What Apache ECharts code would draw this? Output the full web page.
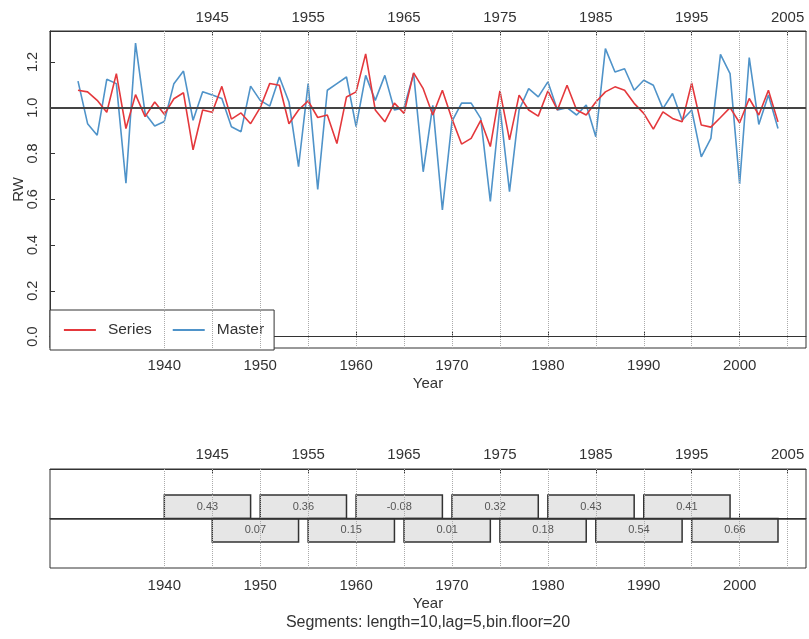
<!DOCTYPE html>
<html>
<head>
<meta charset="utf-8">
<script src="https://cdn.jsdelivr.net/npm/echarts@6/dist/echarts.min.js"></script>
<style>
  html, body { margin: 0; padding: 0; background: #fff; }
  #chart { width: 809px; height: 639px; }
</style>
</head>
<body>
<div id="chart"></div>
<script>
// Ring-width years
const years = [
  1931, 1932, 1933, 1934, 1935, 1936, 1937, 1938, 1939, 1940,
  1941, 1942, 1943, 1944, 1945, 1946, 1947, 1948, 1949, 1950,
  1951, 1952, 1953, 1954, 1955, 1956, 1957, 1958, 1959, 1960,
  1961, 1962, 1963, 1964, 1965, 1966, 1967, 1968, 1969, 1970,
  1971, 1972, 1973, 1974, 1975, 1976, 1977, 1978, 1979, 1980,
  1981, 1982, 1983, 1984, 1985, 1986, 1987, 1988, 1989, 1990,
  1991, 1992, 1993, 1994, 1995, 1996, 1997, 1998, 1999, 2000,
  2001, 2002, 2003, 2004
];

// Individual series (RW index)
const seriesRW = [
  1.076, 1.069, 1.032, 0.980, 1.149, 0.909, 1.057, 0.961, 1.025, 0.971,
  1.039, 1.065, 0.816, 0.990, 0.980, 1.093, 0.950, 0.977, 0.930, 1.000,
  1.106, 1.098, 0.930, 0.990, 1.030, 0.957, 0.968, 0.843, 1.047, 1.069,
  1.235, 0.990, 0.938, 1.020, 0.975, 1.152, 1.083, 0.968, 1.076, 0.951,
  0.841, 0.866, 0.945, 0.830, 1.073, 0.859, 1.055, 0.990, 0.963, 1.073,
  0.990, 1.098, 0.990, 0.968, 1.025, 1.069, 1.091, 1.076, 1.019, 0.975,
  0.906, 0.982, 0.953, 0.938, 1.108, 0.924, 0.915, 0.957, 1.000, 0.934,
  1.040, 0.968, 1.076, 0.938
];

// Master chronology (RW index)
const masterRW = [
  1.116, 0.930, 0.880, 1.124, 1.105, 0.670, 1.282, 0.975, 0.920, 0.940,
  1.105, 1.160, 0.945, 1.070, 1.055, 1.040, 0.917, 0.895, 1.094, 1.032,
  1.007, 1.134, 1.025, 0.742, 1.105, 0.643, 1.076, 1.105, 1.134, 0.917,
  1.141, 1.032, 1.141, 0.990, 1.000, 1.149, 0.720, 1.010, 0.553, 0.940,
  1.020, 1.020, 0.953, 0.590, 1.004, 0.633, 0.990, 1.083, 1.047, 1.113,
  0.990, 1.000, 0.968, 1.012, 0.873, 1.258, 1.156, 1.170, 1.076, 1.120,
  1.098, 0.996, 1.062, 0.945, 0.990, 0.785, 0.866, 1.233, 1.149, 0.667,
  1.219, 0.927, 1.055, 0.909
];

// Segment correlations (length 10, lag 5)
const segStart = [1940, 1945, 1950, 1955, 1960, 1965, 1970, 1975, 1980, 1985, 1990, 1995];
const segEnd   = [1949, 1954, 1959, 1964, 1969, 1974, 1979, 1984, 1989, 1994, 1999, 2004];
const segCor   = [0.43, 0.07, 0.36, 0.15, -0.08, 0.01, 0.32, 0.18, 0.43, 0.54, 0.41, 0.66];

// Axis tick labels
const bottomTicks = [1940, 1950, 1960, 1970, 1980, 1990, 2000];
const topTicks = [1945, 1955, 1965, 1975, 1985, 1995, 2005];
const guideYears = [1940, 1945, 1950, 1955, 1960, 1965, 1970, 1975, 1980, 1985, 1990, 1995, 2000, 2005];
const rwTicks = [0, 0.2, 0.4, 0.6, 0.8, 1.0, 1.2];

const FONT = '"Liberation Sans", Arial, sans-serif';
const INK = '#333';
const RED = '#e4383c';
const BLUE = '#4f93c9';
const X_MIN = 1928.08, X_MAX = 2006.92;

const chart = echarts.init(document.getElementById('chart'), null, { renderer: 'canvas' });

function xAxisDef(gridIndex, position, ticks, margin, name) {
  return {
    type: 'value', gridIndex, position, min: X_MIN, max: X_MAX,
    splitLine: { show: false },
    axisLine: { show: true, lineStyle: { color: INK, width: 1 } },
    axisTick: { show: true, inside: true, length: 5, customValues: ticks, lineStyle: { color: INK } },
    axisLabel: {
      show: true, customValues: ticks, margin, color: INK,
      fontSize: 15, fontFamily: FONT, formatter: v => String(v)
    },
    name: name || '', nameLocation: 'middle', nameGap: 28, nameMoveOverlap: false,
    nameTextStyle: { fontSize: 15, fontFamily: FONT, color: INK }
  };
}

const guideLine = {
  silent: true, symbol: 'none', animation: false,
  label: { show: false },
  lineStyle: { color: '#aaa', type: 'dotted', width: 1 },
  data: guideYears.map(y => ({ xAxis: y }))
};

const option = {
  animation: false,
  backgroundColor: '#fff',
  textStyle: { fontFamily: FONT },
  grid: [
    { left: 50, top: 31, width: 756, height: 317, show: true, borderColor: INK, borderWidth: 1,
      backgroundColor: 'transparent', outerBoundsMode: 'none', containLabel: false },
    { left: 50, top: 469, width: 756, height: 99, show: true, borderColor: INK, borderWidth: 1,
      backgroundColor: 'transparent', outerBoundsMode: 'none', containLabel: false }
  ],
  xAxis: [
    xAxisDef(0, 'bottom', bottomTicks, 10, 'Year'),
    xAxisDef(0, 'top', topTicks, 6),
    xAxisDef(1, 'bottom', bottomTicks, 10, 'Year'),
    xAxisDef(1, 'top', topTicks, 7)
  ],
  yAxis: [
    {
      type: 'value', gridIndex: 0, min: -0.05, max: 1.335,
      splitLine: { show: false },
      axisLine: { show: true, lineStyle: { color: INK } },
      axisTick: { show: true, inside: true, length: 5, customValues: rwTicks, lineStyle: { color: INK } },
      axisLabel: {
        customValues: rwTicks, rotate: 90, margin: 10, color: INK,
        fontSize: 14.5, fontFamily: FONT, formatter: v => v.toFixed(1)
      },
      name: 'RW', nameLocation: 'middle', nameGap: 24, nameRotate: 90, nameMoveOverlap: false,
      nameTextStyle: { fontSize: 15, fontFamily: FONT, color: INK }
    },
    {
      type: 'value', gridIndex: 1, min: -2.1, max: 2.1, show: false
    }
  ],
  legend: {
    left: 50, top: 310,
    orient: 'horizontal',
    padding: [12, 10, 12, 13],
    itemWidth: 32, itemHeight: 14, itemGap: 20,
    borderColor: INK, borderWidth: 1, borderRadius: 0,
    backgroundColor: '#fff',
    itemStyle: { color: 'rgba(0,0,0,0)', borderWidth: 0, opacity: 0 },
    lineStyle: { width: 1.8 },
    textStyle: { fontSize: 15.5, fontFamily: FONT, color: INK, padding: [0, 0, 0, 7] },
    data: ['Series', 'Master']
  },
  graphic: [
    {
      type: 'text', x: 428, y: 623,
      style: {
        text: 'Segments: length=10,lag=5,bin.floor=20',
        fontSize: 16, fontFamily: FONT, fill: INK,
        textAlign: 'center', textVerticalAlign: 'middle'
      }
    }
  ],
  series: [
    {
      name: 'Master', type: 'line', xAxisIndex: 0, yAxisIndex: 0,
      symbol: 'none', z: 3,
      lineStyle: { color: BLUE, width: 1.6 },
      itemStyle: { color: BLUE },
      data: years.map((y, i) => [y, masterRW[i]]),
      markLine: guideLine
    },
    {
      name: 'Series', type: 'line', xAxisIndex: 0, yAxisIndex: 0,
      symbol: 'none', z: 4,
      lineStyle: { color: RED, width: 1.6 },
      itemStyle: { color: RED },
      data: years.map((y, i) => [y, seriesRW[i]]),
      markLine: {
        silent: true, symbol: 'none', animation: false,
        label: { show: false },
        lineStyle: { color: '#444', type: 'solid', width: 2 },
        data: [{ yAxis: 1.0 }]
      }
    },
    {
      name: 'segments', type: 'custom', xAxisIndex: 2, yAxisIndex: 1,
      data: segStart.map((s, i) => [s, segEnd[i], segCor[i]]),
      encode: { x: [0, 1] },
      renderItem: function (params, api) {
        const start = api.value(0), end = api.value(1), r = api.value(2);
        // segments starting on a decade sit above the centre line, offset ones below
        const upper = start % 10 === 0;
        const p0 = api.coord([start, upper ? 1 : 0]);
        const p1 = api.coord([end, upper ? 0 : -1]);
        const w = p1[0] - p0[0], h = p1[1] - p0[1];
        return {
          type: 'group',
          children: [
            {
              type: 'rect',
              shape: { x: p0[0], y: p0[1], width: w, height: h },
              style: { fill: '#e6e6e6', stroke: INK, lineWidth: 1.5 }
            },
            {
              type: 'text',
              style: {
                x: p0[0] + w / 2, y: p0[1] + h / 2,
                text: r.toFixed(2), fontSize: 11, fontFamily: FONT, fill: '#555',
                textAlign: 'center', textVerticalAlign: 'middle'
              }
            }
          ]
        };
      },
      markLine: guideLine
    },
    {
      name: 'centre', type: 'line', xAxisIndex: 2, yAxisIndex: 1,
      data: [], symbol: 'none',
      markLine: {
        silent: true, symbol: 'none', animation: false,
        label: { show: false },
        lineStyle: { color: INK, type: 'solid', width: 1.5 },
        data: [{ yAxis: 0 }]
      }
    }
  ]
};

chart.setOption(option);
</script>
</body>
</html>
